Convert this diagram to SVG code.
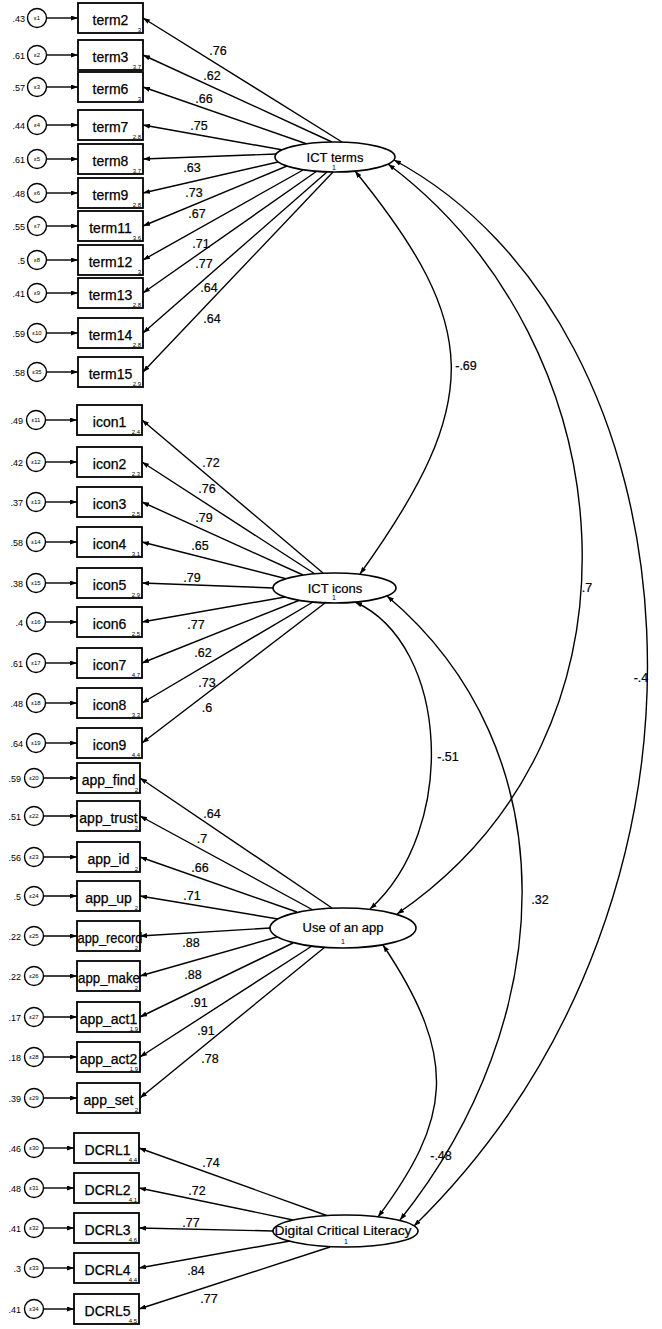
<svg xmlns="http://www.w3.org/2000/svg" width="662" height="1329" viewBox="0 0 662 1329">
<defs>
<style>
text{font-family:"Liberation Sans",Arial,sans-serif;fill:#000}
.box{fill:#fff;stroke:#000;stroke-width:1.8}
.err{fill:#fff;stroke:#000;stroke-width:1.4}
.lat{fill:#fff;stroke:#000;stroke-width:1.6}
.ln{stroke:#000;stroke-width:1.4;fill:none}
.arr{marker-end:url(#ah)}
.dbl{marker-start:url(#ah);marker-end:url(#ah)}
.lbl{font-size:14px;text-anchor:middle;stroke:#000;stroke-width:0.25}
.sub{font-size:6px;text-anchor:end}
.var{font-size:9px;text-anchor:end}
.eps{font-size:6px;text-anchor:middle}
.w{font-size:12.5px;text-anchor:middle;stroke:#000;stroke-width:0.2}
.lt{font-size:13px;text-anchor:middle;stroke:#000;stroke-width:0.2}
.one{font-size:7px;text-anchor:middle}
</style>
<marker id="ah" markerUnits="userSpaceOnUse" markerWidth="7" markerHeight="5" viewBox="0 0 7 5" refX="7" refY="2.5" orient="auto-start-reverse">
<path d="M0,0 L7,2.5 L0,5 z" fill="#000"/>
</marker>
</defs>
<rect width="662" height="1329" fill="#fff"/>

<g id="connectors">
<g class="ln arr">
<line x1="46.5" y1="18" x2="78" y2="18"/>
<line x1="46.5" y1="55" x2="78" y2="55"/>
<line x1="46.5" y1="87" x2="78" y2="87"/>
<line x1="46.5" y1="125" x2="78" y2="125"/>
<line x1="46.5" y1="159" x2="78" y2="159"/>
<line x1="46.5" y1="193" x2="78" y2="193"/>
<line x1="46.5" y1="226" x2="78" y2="226"/>
<line x1="46.5" y1="260" x2="78" y2="260"/>
<line x1="46.5" y1="293" x2="78" y2="293"/>
<line x1="46.5" y1="333" x2="78" y2="333"/>
<line x1="46.5" y1="372" x2="78" y2="372"/>
<line x1="45.5" y1="420" x2="77" y2="420"/>
<line x1="45.5" y1="462" x2="77" y2="462"/>
<line x1="45.5" y1="502" x2="77" y2="502"/>
<line x1="45.5" y1="542" x2="77" y2="542"/>
<line x1="45.5" y1="583" x2="77" y2="583"/>
<line x1="45.5" y1="622" x2="77" y2="622"/>
<line x1="45.5" y1="663" x2="77" y2="663"/>
<line x1="45.5" y1="703" x2="77" y2="703"/>
<line x1="45.5" y1="743" x2="77" y2="743"/>
<line x1="43.5" y1="778" x2="77" y2="778"/>
<line x1="43.5" y1="816" x2="77" y2="816"/>
<line x1="43.5" y1="857" x2="77" y2="857"/>
<line x1="43.5" y1="896" x2="77" y2="896"/>
<line x1="43.5" y1="936" x2="77" y2="936"/>
<line x1="43.5" y1="976" x2="77" y2="976"/>
<line x1="43.5" y1="1017" x2="77" y2="1017"/>
<line x1="43.5" y1="1057" x2="77" y2="1057"/>
<line x1="43.5" y1="1098" x2="77" y2="1098"/>
<line x1="43.5" y1="1148" x2="74" y2="1148"/>
<line x1="43.5" y1="1188" x2="74" y2="1188"/>
<line x1="43.5" y1="1228" x2="74" y2="1228"/>
<line x1="43.5" y1="1268" x2="74" y2="1268"/>
<line x1="43.5" y1="1309" x2="74" y2="1309"/>
</g>
<g class="ln arr">
<line x1="342" y1="142" x2="143" y2="18"/>
<line x1="332" y1="142" x2="143" y2="55"/>
<line x1="307" y1="144" x2="143" y2="87"/>
<line x1="283" y1="150" x2="143" y2="125"/>
<line x1="276" y1="154" x2="143" y2="159"/>
<line x1="278" y1="162" x2="143" y2="193"/>
<line x1="287" y1="166" x2="143" y2="226"/>
<line x1="303" y1="170" x2="143" y2="260"/>
<line x1="317" y1="171" x2="143" y2="293"/>
<line x1="327" y1="172" x2="143" y2="333"/>
<line x1="333" y1="172" x2="143" y2="372"/>
<line x1="323" y1="573" x2="142" y2="420"/>
<line x1="315" y1="574" x2="142" y2="462"/>
<line x1="303" y1="575" x2="142" y2="502"/>
<line x1="287" y1="579" x2="142" y2="542"/>
<line x1="274" y1="588" x2="142" y2="583"/>
<line x1="285" y1="597" x2="142" y2="622"/>
<line x1="300" y1="600" x2="142" y2="663"/>
<line x1="313" y1="602" x2="142" y2="703"/>
<line x1="325" y1="603" x2="142" y2="743"/>
<line x1="332" y1="908" x2="140" y2="778"/>
<line x1="313" y1="910" x2="140" y2="816"/>
<line x1="297" y1="912" x2="140" y2="857"/>
<line x1="278" y1="919" x2="140" y2="896"/>
<line x1="270" y1="928" x2="140" y2="936"/>
<line x1="277" y1="937" x2="140" y2="976"/>
<line x1="293" y1="943" x2="140" y2="1017"/>
<line x1="312" y1="946" x2="140" y2="1057"/>
<line x1="325" y1="947" x2="140" y2="1098"/>
<line x1="328" y1="1216" x2="139" y2="1148"/>
<line x1="293" y1="1220" x2="139" y2="1188"/>
<line x1="273" y1="1231" x2="139" y2="1228"/>
<line x1="290" y1="1241" x2="139" y2="1268"/>
<line x1="330" y1="1247" x2="139" y2="1309"/>
</g>
<g class="ln dbl">
<path d="M355,171 C480,325 485,400 360,574"/>
<path d="M388,164 C628,344 662,733 397,914"/>
<path d="M394,160 C700,325 755,892 414,1226"/>
<path d="M355,602 C450,645 458,830 370,909"/>
<path d="M387,596 C570,750 560,1020 400,1220"/>
<path d="M383,945 C460,1060 450,1120 378,1217"/>
</g>
<g class="w">
<text x="218" y="55">.76</text>
<text x="212" y="80">.62</text>
<text x="204" y="103">.66</text>
<text x="199" y="130">.75</text>
<text x="192" y="172">.63</text>
<text x="194" y="197">.73</text>
<text x="197" y="218">.67</text>
<text x="201" y="248">.71</text>
<text x="204" y="268">.77</text>
<text x="209" y="292">.64</text>
<text x="212" y="323">.64</text>
<text x="211" y="467">.72</text>
<text x="207" y="493">.76</text>
<text x="204" y="522">.79</text>
<text x="200" y="550">.65</text>
<text x="192" y="582">.79</text>
<text x="196" y="629">.77</text>
<text x="203" y="657">.62</text>
<text x="207" y="687">.73</text>
<text x="207" y="712">.6</text>
<text x="212" y="818">.64</text>
<text x="202" y="843">.7</text>
<text x="200" y="872">.66</text>
<text x="192" y="900">.71</text>
<text x="191" y="947">.88</text>
<text x="193" y="979">.88</text>
<text x="199" y="1007">.91</text>
<text x="206" y="1035">.91</text>
<text x="210" y="1063">.78</text>
<text x="211" y="1167">.74</text>
<text x="197" y="1195">.72</text>
<text x="191" y="1227">.77</text>
<text x="196" y="1275">.84</text>
<text x="209" y="1303">.77</text>
<text x="466" y="370">-.69</text>
<text x="587" y="592">.7</text>
<text x="641" y="682">-.4</text>
<text x="448" y="761">-.51</text>
<text x="540" y="904">.32</text>
<text x="441" y="1160">-.48</text>
</g>
</g>

<g id="ICT_terms"><ellipse class="lat" cx="335" cy="157" rx="60" ry="15"/><text class="lt" x="335" y="162">ICT terms</text><text class="one" x="334" y="170">1</text></g>
<g id="ICT_icons"><ellipse class="lat" cx="334.5" cy="588" rx="61.5" ry="15"/><text class="lt" x="335" y="593">ICT icons</text><text class="one" x="334" y="600">1</text></g>
<g id="Use_of_an_app"><ellipse class="lat" cx="343" cy="928" rx="73" ry="20"/><text class="lt" x="343" y="932">Use of an app</text><text class="one" x="343" y="944">1</text></g>
<g id="Digital_Critical_Literacy"><ellipse class="lat" cx="345.5" cy="1231" rx="72.5" ry="16"/><text class="lt" x="343" y="1235" textLength="137" lengthAdjust="spacingAndGlyphs">Digital Critical Literacy</text><text class="one" x="346" y="1244">1</text></g>

<g id="term2"><rect class="box" x="78" y="3" width="65" height="30"/><text class="lbl" x="110.5" y="24.5">term2</text><text class="sub" x="141" y="31.5">3</text></g>
<g id="term3"><rect class="box" x="78" y="40" width="65" height="30"/><text class="lbl" x="110.5" y="61.5">term3</text><text class="sub" x="141" y="68.5">3.7</text></g>
<g id="term6"><rect class="box" x="78" y="72" width="65" height="30"/><text class="lbl" x="110.5" y="93.5">term6</text><text class="sub" x="141" y="100.5">3</text></g>
<g id="term7"><rect class="box" x="78" y="110" width="65" height="30"/><text class="lbl" x="110.5" y="131.5">term7</text><text class="sub" x="141" y="138.5">2.8</text></g>
<g id="term8"><rect class="box" x="78" y="144" width="65" height="30"/><text class="lbl" x="110.5" y="165.5">term8</text><text class="sub" x="141" y="172.5">3.7</text></g>
<g id="term9"><rect class="box" x="78" y="178" width="65" height="30"/><text class="lbl" x="110.5" y="199.5">term9</text><text class="sub" x="141" y="206.5">2.8</text></g>
<g id="term11"><rect class="box" x="78" y="211" width="65" height="30"/><text class="lbl" x="110.5" y="232.5">term11</text><text class="sub" x="141" y="239.5">3.6</text></g>
<g id="term12"><rect class="box" x="78" y="245" width="65" height="30"/><text class="lbl" x="110.5" y="266.5">term12</text><text class="sub" x="141" y="273.5">3</text></g>
<g id="term13"><rect class="box" x="78" y="278" width="65" height="30"/><text class="lbl" x="110.5" y="299.5">term13</text><text class="sub" x="141" y="306.5">2.8</text></g>
<g id="term14"><rect class="box" x="78" y="318" width="65" height="30"/><text class="lbl" x="110.5" y="339.5">term14</text><text class="sub" x="141" y="346.5">2.8</text></g>
<g id="term15"><rect class="box" x="78" y="357" width="65" height="30"/><text class="lbl" x="110.5" y="378.5">term15</text><text class="sub" x="141" y="385.5">2.9</text></g>

<g id="icon1"><rect class="box" x="77" y="405" width="65" height="30"/><text class="lbl" x="109.5" y="426.5">icon1</text><text class="sub" x="140" y="433.5">2.4</text></g>
<g id="icon2"><rect class="box" x="77" y="447" width="65" height="30"/><text class="lbl" x="109.5" y="468.5">icon2</text><text class="sub" x="140" y="475.5">2.3</text></g>
<g id="icon3"><rect class="box" x="77" y="487" width="65" height="30"/><text class="lbl" x="109.5" y="508.5">icon3</text><text class="sub" x="140" y="515.5">2.5</text></g>
<g id="icon4"><rect class="box" x="77" y="527" width="65" height="30"/><text class="lbl" x="109.5" y="548.5">icon4</text><text class="sub" x="140" y="555.5">3.1</text></g>
<g id="icon5"><rect class="box" x="77" y="568" width="65" height="30"/><text class="lbl" x="109.5" y="589.5">icon5</text><text class="sub" x="140" y="596.5">2.9</text></g>
<g id="icon6"><rect class="box" x="77" y="607" width="65" height="30"/><text class="lbl" x="109.5" y="628.5">icon6</text><text class="sub" x="140" y="635.5">2.5</text></g>
<g id="icon7"><rect class="box" x="77" y="648" width="65" height="30"/><text class="lbl" x="109.5" y="669.5">icon7</text><text class="sub" x="140" y="676.5">4.7</text></g>
<g id="icon8"><rect class="box" x="77" y="688" width="65" height="30"/><text class="lbl" x="109.5" y="709.5">icon8</text><text class="sub" x="140" y="716.5">3.3</text></g>
<g id="icon9"><rect class="box" x="77" y="728" width="65" height="30"/><text class="lbl" x="109.5" y="749.5">icon9</text><text class="sub" x="140" y="756.5">4.4</text></g>

<g id="app_find"><rect class="box" x="77" y="763" width="63" height="30"/><text class="lbl" x="108.5" y="784.5">app_find</text><text class="sub" x="138" y="791.5">2</text></g>
<g id="app_trust"><rect class="box" x="77" y="801" width="63" height="30"/><text class="lbl" x="108.5" y="822.5">app_trust</text><text class="sub" x="138" y="829.5">2</text></g>
<g id="app_id"><rect class="box" x="77" y="842" width="63" height="30"/><text class="lbl" x="108.5" y="863.5">app_id</text><text class="sub" x="138" y="870.5">2</text></g>
<g id="app_up"><rect class="box" x="77" y="881" width="63" height="30"/><text class="lbl" x="108.5" y="902.5">app_up</text><text class="sub" x="138" y="909.5">2</text></g>
<g id="app_record"><rect class="box" x="77" y="921" width="63" height="30"/><text class="lbl" x="110" y="942.5" textLength="65" lengthAdjust="spacingAndGlyphs">app_record</text><text class="sub" x="138" y="949.5">2</text></g>
<g id="app_make"><rect class="box" x="77" y="961" width="63" height="30"/><text class="lbl" x="109" y="982.5" textLength="62" lengthAdjust="spacingAndGlyphs">app_make</text><text class="sub" x="138" y="989.5">2</text></g>
<g id="app_act1"><rect class="box" x="77" y="1002" width="63" height="30"/><text class="lbl" x="108.5" y="1023.5">app_act1</text><text class="sub" x="138" y="1030.5">1.9</text></g>
<g id="app_act2"><rect class="box" x="77" y="1042" width="63" height="30"/><text class="lbl" x="108.5" y="1063.5">app_act2</text><text class="sub" x="138" y="1070.5">1.9</text></g>
<g id="app_set"><rect class="box" x="77" y="1083" width="63" height="30"/><text class="lbl" x="108.5" y="1104.5">app_set</text><text class="sub" x="138" y="1111.5">2</text></g>

<g id="DCRL1"><rect class="box" x="74" y="1133" width="65" height="30"/><text class="lbl" x="107.5" y="1154.5">DCRL1</text><text class="sub" x="137" y="1161.5">4.4</text></g>
<g id="DCRL2"><rect class="box" x="74" y="1173" width="65" height="30"/><text class="lbl" x="107.5" y="1194.5">DCRL2</text><text class="sub" x="137" y="1201.5">4.1</text></g>
<g id="DCRL3"><rect class="box" x="74" y="1213" width="65" height="30"/><text class="lbl" x="107.5" y="1234.5">DCRL3</text><text class="sub" x="137" y="1241.5">4.6</text></g>
<g id="DCRL4"><rect class="box" x="74" y="1253" width="65" height="30"/><text class="lbl" x="107.5" y="1274.5">DCRL4</text><text class="sub" x="137" y="1281.5">4.4</text></g>
<g id="DCRL5"><rect class="box" x="74" y="1294" width="65" height="30"/><text class="lbl" x="107.5" y="1315.5">DCRL5</text><text class="sub" x="137" y="1322.5">4.5</text></g>

<g id="e1"><circle class="err" cx="37" cy="18" r="9.5"/><text class="eps" x="37" y="20">ε1</text><text class="var" x="25" y="21.5">.43</text></g>
<g id="e2"><circle class="err" cx="37" cy="55" r="9.5"/><text class="eps" x="37" y="57">ε2</text><text class="var" x="25" y="58.5">.61</text></g>
<g id="e3"><circle class="err" cx="37" cy="87" r="9.5"/><text class="eps" x="37" y="89">ε3</text><text class="var" x="25" y="90.5">.57</text></g>
<g id="e4"><circle class="err" cx="37" cy="125" r="9.5"/><text class="eps" x="37" y="127">ε4</text><text class="var" x="25" y="128.5">.44</text></g>
<g id="e5"><circle class="err" cx="37" cy="159" r="9.5"/><text class="eps" x="37" y="161">ε5</text><text class="var" x="25" y="162.5">.61</text></g>
<g id="e6"><circle class="err" cx="37" cy="193" r="9.5"/><text class="eps" x="37" y="195">ε6</text><text class="var" x="25" y="196.5">.48</text></g>
<g id="e7"><circle class="err" cx="37" cy="226" r="9.5"/><text class="eps" x="37" y="228">ε7</text><text class="var" x="25" y="229.5">.55</text></g>
<g id="e8"><circle class="err" cx="37" cy="260" r="9.5"/><text class="eps" x="37" y="262">ε8</text><text class="var" x="25" y="263.5">.5</text></g>
<g id="e9"><circle class="err" cx="37" cy="293" r="9.5"/><text class="eps" x="37" y="295">ε9</text><text class="var" x="25" y="296.5">.41</text></g>
<g id="e10"><circle class="err" cx="37" cy="333" r="9.5"/><text class="eps" x="37" y="335">ε10</text><text class="var" x="25" y="336.5">.59</text></g>
<g id="e35"><circle class="err" cx="37" cy="372" r="9.5"/><text class="eps" x="37" y="374">ε35</text><text class="var" x="25" y="375.5">.58</text></g>
<g id="e11"><circle class="err" cx="36" cy="420" r="9.5"/><text class="eps" x="36" y="422">ε11</text><text class="var" x="23" y="423.5">.49</text></g>
<g id="e12"><circle class="err" cx="36" cy="462" r="9.5"/><text class="eps" x="36" y="464">ε12</text><text class="var" x="23" y="465.5">.42</text></g>
<g id="e13"><circle class="err" cx="36" cy="502" r="9.5"/><text class="eps" x="36" y="504">ε13</text><text class="var" x="23" y="505.5">.37</text></g>
<g id="e14"><circle class="err" cx="36" cy="542" r="9.5"/><text class="eps" x="36" y="544">ε14</text><text class="var" x="23" y="545.5">.58</text></g>
<g id="e15"><circle class="err" cx="36" cy="583" r="9.5"/><text class="eps" x="36" y="585">ε15</text><text class="var" x="23" y="586.5">.38</text></g>
<g id="e16"><circle class="err" cx="36" cy="622" r="9.5"/><text class="eps" x="36" y="624">ε16</text><text class="var" x="23" y="625.5">.4</text></g>
<g id="e17"><circle class="err" cx="36" cy="663" r="9.5"/><text class="eps" x="36" y="665">ε17</text><text class="var" x="23" y="666.5">.61</text></g>
<g id="e18"><circle class="err" cx="36" cy="703" r="9.5"/><text class="eps" x="36" y="705">ε18</text><text class="var" x="23" y="706.5">.48</text></g>
<g id="e19"><circle class="err" cx="36" cy="743" r="9.5"/><text class="eps" x="36" y="745">ε19</text><text class="var" x="23" y="746.5">.64</text></g>
<g id="e20"><circle class="err" cx="34" cy="778" r="9.5"/><text class="eps" x="34" y="780">ε20</text><text class="var" x="21" y="781.5">.59</text></g>
<g id="e22"><circle class="err" cx="34" cy="816" r="9.5"/><text class="eps" x="34" y="818">ε22</text><text class="var" x="21" y="819.5">.51</text></g>
<g id="e23"><circle class="err" cx="34" cy="857" r="9.5"/><text class="eps" x="34" y="859">ε23</text><text class="var" x="21" y="860.5">.56</text></g>
<g id="e24"><circle class="err" cx="34" cy="896" r="9.5"/><text class="eps" x="34" y="898">ε24</text><text class="var" x="21" y="899.5">.5</text></g>
<g id="e25"><circle class="err" cx="34" cy="936" r="9.5"/><text class="eps" x="34" y="938">ε25</text><text class="var" x="21" y="939.5">.22</text></g>
<g id="e26"><circle class="err" cx="34" cy="976" r="9.5"/><text class="eps" x="34" y="978">ε26</text><text class="var" x="21" y="979.5">.22</text></g>
<g id="e27"><circle class="err" cx="34" cy="1017" r="9.5"/><text class="eps" x="34" y="1019">ε27</text><text class="var" x="21" y="1020.5">.17</text></g>
<g id="e28"><circle class="err" cx="34" cy="1057" r="9.5"/><text class="eps" x="34" y="1059">ε28</text><text class="var" x="21" y="1060.5">.18</text></g>
<g id="e29"><circle class="err" cx="34" cy="1098" r="9.5"/><text class="eps" x="34" y="1100">ε29</text><text class="var" x="21" y="1101.5">.39</text></g>
<g id="e30"><circle class="err" cx="34" cy="1148" r="9.5"/><text class="eps" x="34" y="1150">ε30</text><text class="var" x="21" y="1151.5">.46</text></g>
<g id="e31"><circle class="err" cx="34" cy="1188" r="9.5"/><text class="eps" x="34" y="1190">ε31</text><text class="var" x="21" y="1191.5">.48</text></g>
<g id="e32"><circle class="err" cx="34" cy="1228" r="9.5"/><text class="eps" x="34" y="1230">ε32</text><text class="var" x="21" y="1231.5">.41</text></g>
<g id="e33"><circle class="err" cx="34" cy="1268" r="9.5"/><text class="eps" x="34" y="1270">ε33</text><text class="var" x="21" y="1271.5">.3</text></g>
<g id="e34"><circle class="err" cx="34" cy="1309" r="9.5"/><text class="eps" x="34" y="1311">ε34</text><text class="var" x="21" y="1312.5">.41</text></g>
</svg>
